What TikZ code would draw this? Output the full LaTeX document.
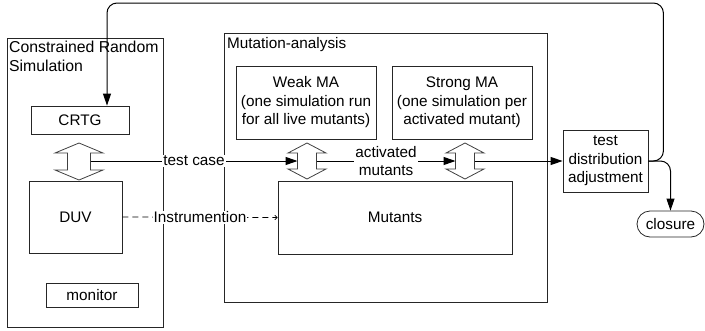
\documentclass[tikz,border=0pt]{standalone}
\usepackage{fontspec}
\setmainfont{Liberation Sans}
\usetikzlibrary{arrows.meta}
\begin{document}
\begin{tikzpicture}[x=1pt,y=-1pt,
  every node/.style={font=\fontsize{15.3}{18.5}\selectfont, inner sep=0pt},
  box/.style={draw=black!85, line width=0.8pt, align=center},
  blk/.style={draw=black!75, fill=white, line width=0.8pt, line join=miter},
  conn/.style={line width=1pt, -{Triangle[length=12pt,width=8pt]}},
  lbl/.style={fill=white, inner xsep=1pt, inner ysep=1pt, align=center}]
\useasboundingbox (0,0) rectangle (705,330);
\newcommand\dblblk[6]{% cx, ytop, ybot, headhalf, shafthalf, headlen
  \draw[blk] (#1,#2) -- (#1+#4,#2+#6) -- (#1+#5,#2+#6) -- (#1+#5,#3-#6) -- (#1+#4,#3-#6)
   -- (#1,#3) -- (#1-#4,#3-#6) -- (#1-#5,#3-#6) -- (#1-#5,#2+#6) -- (#1-#4,#2+#6) -- cycle;}
% Constrained Random Simulation
\node[box, minimum width=156pt, minimum height=289pt] (crs) at (85,182.5) {};
\node[anchor=north west, align=left, font=\fontsize{15.8}{19}\selectfont] (crst) at (9,41) {Constrained Random\\Simulation};
\node[box, minimum width=98pt, minimum height=28pt] (crtg) at (80,120) {CRTG};
\node[box, minimum width=93pt, minimum height=72pt] (duv) at (75.5,217) {DUV};
\node[box, minimum width=92pt, minimum height=24pt] (mon) at (92,295) {monitor};
% Mutation analysis
\node[box, minimum width=323pt, minimum height=269pt] (ma) at (385.5,167.5) {};
\node[anchor=north west] (mat) at (227,37) {Mutation-analysis};
\node[box, minimum width=140pt, minimum height=73pt] (weak) at (306,102.5) {Weak MA\\(one simulation run\\for all live mutants)};
\node[box, minimum width=140pt, minimum height=73pt] (strong) at (462,102.5) {Strong MA\\(one simulation per\\activated mutant)};
\node[box, minimum width=234pt, minimum height=73pt] (mut) at (395,217.5) {Mutants};
% right side
\node[box, minimum width=85pt, minimum height=62pt] (tda) at (605.5,161) {test\\distribution\\adjustment};
\node[box, minimum width=67pt, minimum height=26pt, rounded corners=13pt] (clo) at (670.5,224) {closure};
% block arrows
\dblblk{79}{143}{180}{24}{11.5}{10}
\dblblk{307}{143}{179}{19}{9.5}{10}
\dblblk{465}{143}{179}{19}{9.5}{10}
\coordinate (a1r) at (90.5,161);
\coordinate (a2l) at (297.5,161);
\coordinate (a2r) at (316.5,161);
\coordinate (a3l) at (455.5,161);
\coordinate (a3r) at (474.5,161);
% connectors
\draw[conn] (a1r) -- node[lbl, pos=0.5] {test case} (a2l);
\draw[conn] (a2r) -- node[lbl, pos=0.5] {activated\\mutants} (a3l);
\draw[conn] (a3r) -- (tda.west);
\draw[line width=0.8pt, dash pattern=on 6pt off 4pt, -{To[length=3pt,width=5pt]}] (duv.east) -- node[lbl, pos=0.5] {Instrumention} (mut.west);
\coordinate (fb) at (107,3);
\draw[conn, rounded corners=10pt] (tda.east) -- ++(15,0) |- (fb) -- (fb |- crtg.north);
\draw[conn, rounded corners=10pt] (tda.east) -| (clo.north);
\end{tikzpicture}
\end{document}
